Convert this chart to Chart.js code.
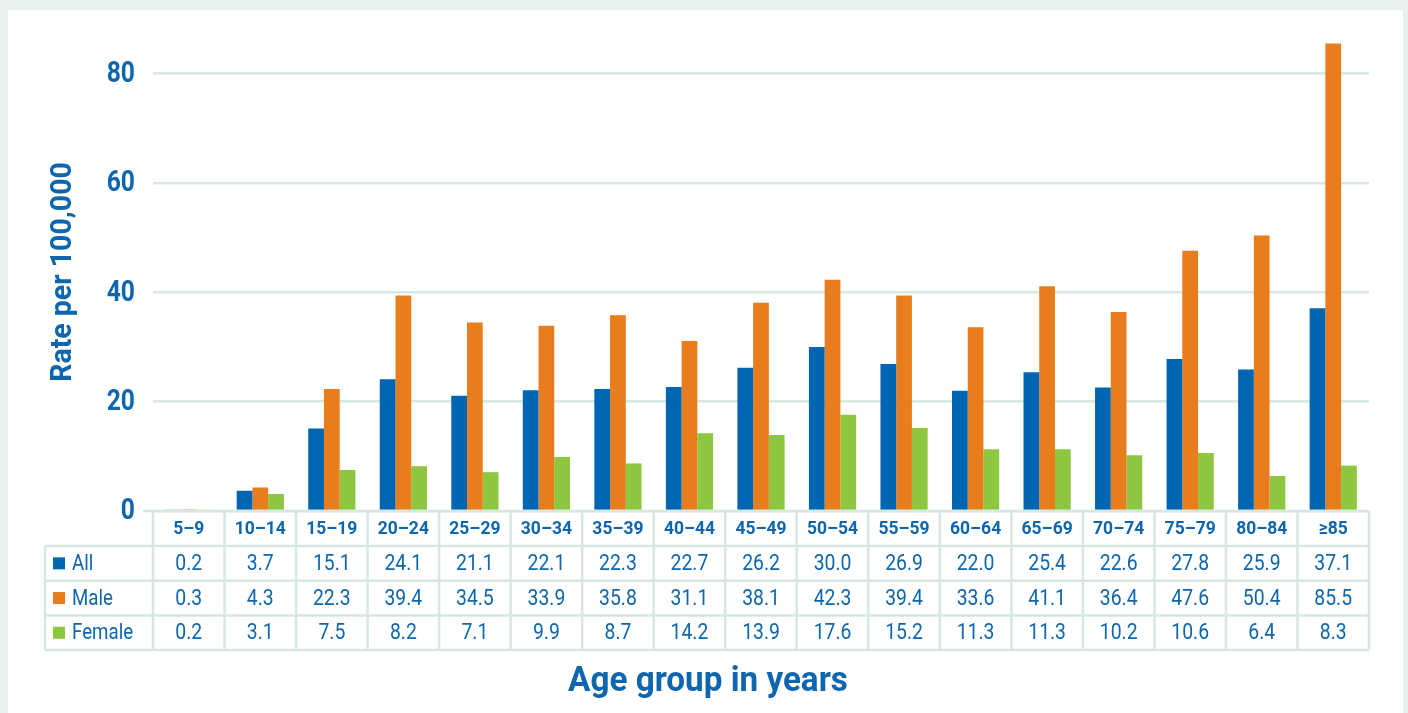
<!DOCTYPE html>
<html>
<head>
<meta charset="utf-8">
<script src="https://cdn.jsdelivr.net/npm/chart.js@4"></script>
<style>
    body { margin: 0; background: #e7f2ec; width: 1408px; height: 713px; overflow: hidden; position: relative; }
    #panel { position: absolute; left: 8px; top: 10px; width: 1395px; height: 703px; background: #fff; }
    #wrap { position: absolute; left: 0; top: 0; width: 1408px; height: 713px; }
</style>
</head>
<body>
<div id="panel"></div>
<div id="wrap"><canvas id="rate-chart"></canvas></div>
<script>
// --- Dữ liệu ---
const categories = ['5–9', '10–14', '15–19', '20–24', '25–29', '30–34', '35–39', '40–44', '45–49',
    '50–54', '55–59', '60–64', '65–69', '70–74', '75–79', '80–84', '≥85'];
const allRates = [0.2, 3.7, 15.1, 24.1, 21.1, 22.1, 22.3, 22.7, 26.2, 30.0, 26.9, 22.0, 25.4, 22.6, 27.8, 25.9, 37.1];
const maleRates = [0.3, 4.3, 22.3, 39.4, 34.5, 33.9, 35.8, 31.1, 38.1, 42.3, 39.4, 33.6, 41.1, 36.4, 47.6, 50.4, 85.5];
const femaleRates = [0.2, 3.1, 7.5, 8.2, 7.1, 9.9, 8.7, 14.2, 13.9, 17.6, 15.2, 11.3, 11.3, 10.2, 10.6, 6.4, 8.3];
const yTicks = [0, 20, 40, 60, 80];
const seriesNames = ['All', 'Male', 'Female'];

const BLUE = '#0066b3';
const ORANGE = '#e87d1e';
const GREEN = '#8dc63f';
const TEXT = '#0d66ae';
const LINE = '#d6e9e1';
const FONT = "Roboto, sans-serif";

// chữ hẹp (giả lập font condensed)
function narrowText(ctx, text, x, y, sx, rot) {
    ctx.save();
    ctx.translate(x, y);
    if (rot) ctx.rotate(rot);
    ctx.scale(sx, 1);
    ctx.fillText(text, 0, 0);
    ctx.restore();
}

// --- Bảng số liệu + nhãn trục ---
const tablePlugin = {
    id: 'dataTable',
    afterDraw(chart) {
        const ctx = chart.ctx;
        const x = chart.scales.x;
        const y = chart.scales.y;
        const area = chart.chartArea;
        const rows = [allRates, maleRates, femaleRates];
        const colors = [BLUE, ORANGE, GREEN];
        const colW = (area.right - area.left) / categories.length;
        const top = area.bottom;
        const headH = 35, rowH = 34.7;
        const labelLeft = 45;
        const bottom = top + headH + rowH * 3;

        ctx.save();
        ctx.strokeStyle = LINE;
        ctx.lineWidth = 2.5;
        ctx.beginPath();
        ctx.moveTo(area.left - 10, top); ctx.lineTo(area.right, top);
        for (let r = 0; r <= 3; r++) {
            const yy = top + headH + r * rowH;
            ctx.moveTo(labelLeft, yy); ctx.lineTo(area.right, yy);
        }
        ctx.moveTo(labelLeft, top + headH); ctx.lineTo(labelLeft, bottom);
        for (let c = 0; c <= categories.length; c++) {
            const xx = area.left + c * colW;
            ctx.moveTo(xx, top); ctx.lineTo(xx, bottom);
        }
        ctx.stroke();

        ctx.fillStyle = TEXT;
        ctx.textAlign = 'center';
        ctx.textBaseline = 'middle';

        // tiêu đề cột
        ctx.font = `bold 19px ${FONT}`;
        categories.forEach((c, i) => {
            narrowText(ctx, c, x.getPixelForValue(i), top + headH / 2 + 1, 0.92);
        });

        // giá trị
        ctx.font = `22px ${FONT}`;
        rows.forEach((vals, r) => {
            const yMid = top + headH + r * rowH + rowH / 2 + 1;
            vals.forEach((v, i) => {
                narrowText(ctx, v.toFixed(1), x.getPixelForValue(i), yMid, 0.88);
            });
            ctx.fillStyle = colors[r];
            ctx.fillRect(53, yMid - 7, 12, 12);
            ctx.fillStyle = TEXT;
            ctx.textAlign = 'left';
            narrowText(ctx, seriesNames[r], 72, yMid, 0.85);
            ctx.textAlign = 'center';
        });

        // nhãn trục y
        ctx.font = `bold 29px ${FONT}`;
        ctx.textAlign = 'right';
        y.ticks.forEach(t => {
            narrowText(ctx, String(t.value), 135, y.getPixelForValue(t.value) + 1, 0.85);
        });

        // tiêu đề trục
        ctx.textAlign = 'center';
        ctx.font = `bold 30px ${FONT}`;
        narrowText(ctx, 'Rate per 100,000', 63, 272, 0.95, -Math.PI / 2);
        ctx.font = `bold 35px ${FONT}`;
        narrowText(ctx, 'Age group in years', 708, 682, 0.95);
        ctx.restore();
    }
};

const ctx = document.getElementById('rate-chart').getContext('2d');
const rateChart = new Chart(ctx, {
    type: 'bar',
    data: {
        labels: categories,
        datasets: [
            { label: seriesNames[0], data: allRates, backgroundColor: BLUE },
            { label: seriesNames[1], data: maleRates, backgroundColor: ORANGE },
            { label: seriesNames[2], data: femaleRates, backgroundColor: GREEN }
        ]
    },
    options: {
        responsive: true,
        maintainAspectRatio: false,
        animation: false,
        devicePixelRatio: 1,
        datasets: { bar: { categoryPercentage: 0.66, barPercentage: 1.0 } },
        layout: { padding: { left: 0, top: 19, right: 39, bottom: 202 } },
        plugins: { legend: { display: false }, tooltip: { enabled: false } },
        scales: {
            x: {
                ticks: { display: false },
                grid: { display: false },
                border: { display: false },
                afterFit: (s) => { s.height = 0; }
            },
            y: {
                min: 0,
                max: 90,
                afterFit: (s) => { s.width = 153; },
                afterBuildTicks: (s) => { s.ticks = yTicks.map(v => ({ value: v })); },
                border: { display: false },
                grid: { color: LINE, lineWidth: 2.5, drawTicks: false },
                ticks: { display: false }
            }
        }
    },
    plugins: [tablePlugin]
});
</script>
</body>
</html>
